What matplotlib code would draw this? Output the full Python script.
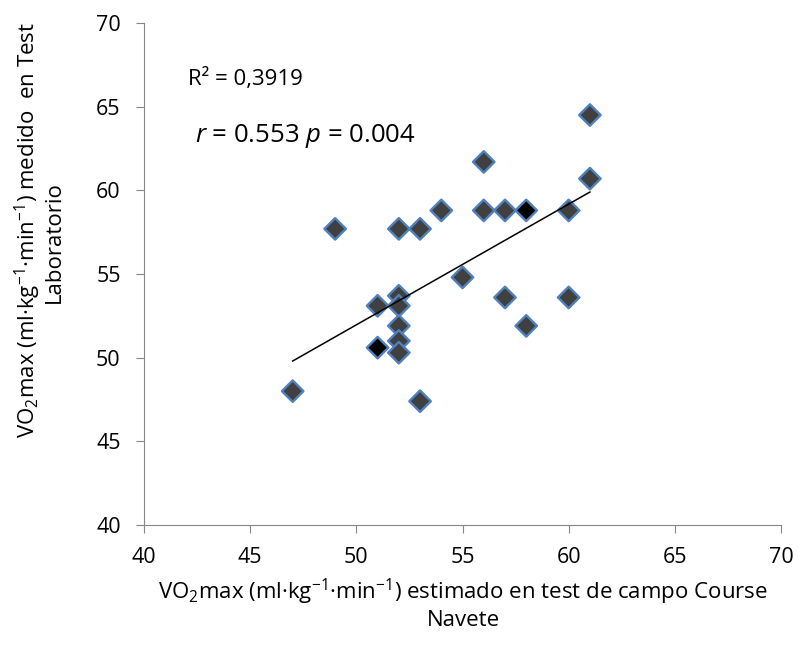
import matplotlib

matplotlib.use('Agg')
import matplotlib.pyplot as plt

# VO2max estimated in the field test (Course Navete) vs measured in the lab
campo = [47, 49, 51, 51, 52, 52, 52, 52, 52, 52, 53, 53, 54, 55,
         56, 56, 57, 57, 58, 58, 60, 60, 61, 61]
laboratorio = [48.0, 57.7, 53.1, 50.6, 57.7, 53.7, 53.1, 51.9, 51.0, 50.3, 57.7, 47.4, 58.8, 54.8,
               61.7, 58.8, 58.8, 53.6, 58.8, 51.9, 58.8, 53.6, 64.5, 60.7]
# two points are drawn with a black fill in the original
black_points = [3, 18]

# linear trend line as drawn in the original (ends)
trend_x = [47, 61]
trend_y = [49.8, 59.9]

x_ticks = [40, 45, 50, 55, 60, 65, 70]
y_ticks = [40, 45, 50, 55, 60, 65, 70]

plt.rcParams['font.family'] = ['Open Sans', 'DejaVu Sans']
plt.rcParams['mathtext.fontset'] = 'custom'
plt.rcParams['mathtext.rm'] = 'Open Sans'
plt.rcParams['mathtext.it'] = 'Open Sans:italic'

fig = plt.figure(figsize=(7.98, 6.58), dpi=100)
ax = fig.add_axes([0.1805, 0.2021, 0.7982, 0.7629])

colors = ['#000000' if i in black_points else '#404040' for i in range(len(campo))]
ax.scatter(campo, laboratorio, marker='D', s=120, c=colors,
           edgecolors='#4F81BD', linewidths=1.7, zorder=3, clip_on=False)

ax.plot(trend_x, trend_y, color='black', lw=1.1, zorder=4)

ax.text(42.07, 66.65, 'R² = 0,3919', fontsize=16, va='center')
ax.text(42.4, 63.25, '$\\it{r}$ = 0.553 $\\it{p}$ = 0.004', fontsize=18.5, va='center')

ax.set_xlim(40, 70)
ax.set_ylim(40, 70)
ax.set_xticks(x_ticks)
ax.set_yticks(y_ticks)
ax.tick_params(labelsize=15.5, color='#868686', length=5.8, direction='out')
ax.tick_params(axis='y', pad=11)
ax.tick_params(axis='x', pad=10)

for side in ['top', 'right']:
    ax.spines[side].set_visible(False)
for side in ['left', 'bottom']:
    ax.spines[side].set_color('#868686')

# axis titles, placed line by line as in the original
fig.text(463 / 798, 1 - 592 / 658,
         'VO$_2$max (ml·kg$^{-1}$·min$^{-1}$) estimado en test de campo Course',
         fontsize=16, ha='center', va='center')
fig.text(463 / 798, 1 - 620 / 658, 'Navete', fontsize=16, ha='center', va='center')
fig.text(28 / 798, 1 - 230 / 658,
         'VO$_2$max (ml·kg$^{-1}$·min$^{-1}$) medido  en Test',
         fontsize=16, rotation=90, ha='center', va='center')
fig.text(54 / 798, 1 - 242 / 658, 'Laboratorio', fontsize=16, rotation=90,
         ha='center', va='center')

fig.savefig('out.png', dpi=100)
